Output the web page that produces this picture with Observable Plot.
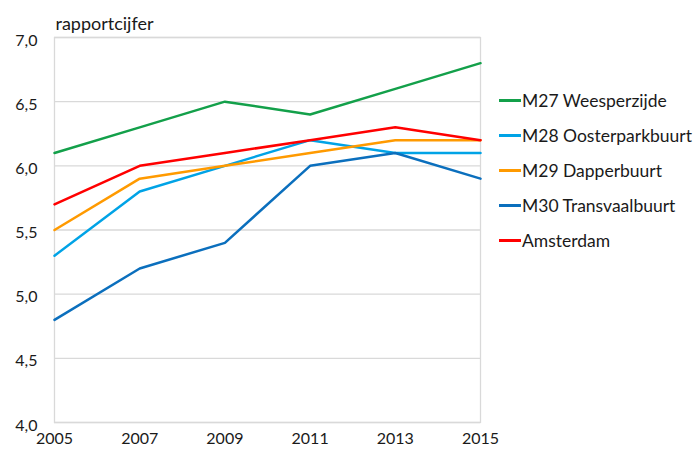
<!DOCTYPE html>
<html>
<head>
<meta charset="utf-8">
<script src="https://cdn.jsdelivr.net/npm/d3@7"></script>
<script src="https://cdn.jsdelivr.net/npm/@observablehq/plot@0.6"></script>
<style>
  html, body { margin: 0; padding: 0; background: #fff; }
  #chart { position: relative; width: 700px; height: 452px; font-family: Lato, "Open Sans", sans-serif; }
  #legend { position: absolute; left: 499px; top: 83px; font-size: 17.5px; color: #1a1a1a; }
  .item { display: flex; align-items: center; height: 35px; }
  .sw { width: 22px; height: 2.5px; margin-right: 1px; }
</style>
</head>
<body>
<div id="chart"></div>
<script>
const years = [2005, 2007, 2009, 2011, 2013, 2015];
const seriesNames = ["M27 Weesperzijde", "M28 Oosterparkbuurt", "M29 Dapperbuurt", "M30 Transvaalbuurt", "Amsterdam"];
const seriesColors = ["#13a04a", "#00a3e6", "#ff9a00", "#0b6fbd", "#ff0000"];
const m27 = [6.1, 6.3, 6.5, 6.4, 6.6, 6.8];
const m28 = [5.3, 5.8, 6.0, 6.2, 6.1, 6.1];
const m29 = [5.5, 5.9, 6.0, 6.1, 6.2, 6.2];
const m30 = [4.8, 5.2, 5.4, 6.0, 6.1, 5.9];
const amsterdam = [5.7, 6.0, 6.1, 6.2, 6.3, 6.2];
const yTicks = [4, 4.5, 5, 5.5, 6, 6.5, 7];
const yTitle = "rapportcijfer";

const seriesValues = [m27, m28, m29, m30, amsterdam];
const data = [];
seriesNames.forEach((name, i) => {
  years.forEach((yr, j) => data.push({series: name, year: yr, value: seriesValues[i][j]}));
});

const fmt = v => v.toFixed(1).replace(".", ",");

const chart = Plot.plot({
  width: 700,
  height: 452,
  marginLeft: 54,
  marginRight: 220,
  marginTop: 37,
  marginBottom: 30,
  style: {fontFamily: "Lato, 'Open Sans', sans-serif", fontSize: "16px", color: "#1a1a1a", background: "#fff"},
  x: {domain: [2005, 2015], ticks: years, tickFormat: d => String(d), tickSize: 0, tickPadding: 10, label: null},
  y: {domain: [4, 7], ticks: yTicks, tickFormat: fmt, tickSize: 0, tickPadding: 17, label: null},
  color: {domain: seriesNames, range: seriesColors},
  marks: [
    Plot.gridY(yTicks, {stroke: "#d9d9d9", strokeOpacity: 1, strokeWidth: 1.3}),
    Plot.frame({stroke: "#d9d9d9", strokeWidth: 1.3}),
    Plot.axisY({ticks: yTicks, tickFormat: fmt, tickSize: 0, tickPadding: 17, dy: 3}),
    Plot.axisX({ticks: years, tickFormat: d => String(d), tickSize: 0, tickPadding: 10}),
    Plot.line(data, {x: "year", y: "value", z: "series", stroke: "series", strokeWidth: 2.5, strokeLinejoin: "miter"}),
    Plot.text([yTitle], {frameAnchor: "top-left", text: d => d, textAnchor: "start", fontSize: 18, dx: 1, dy: -20})
  ]
});

const container = document.getElementById("chart");
container.appendChild(chart);

const legend = document.createElement("div");
legend.id = "legend";
seriesNames.forEach((name, i) => {
  const item = document.createElement("div");
  item.className = "item";
  const sw = document.createElement("span");
  sw.className = "sw";
  sw.style.background = seriesColors[i];
  const label = document.createElement("span");
  label.textContent = name;
  item.appendChild(sw);
  item.appendChild(label);
  legend.appendChild(item);
});
container.appendChild(legend);
</script>
</body>
</html>
